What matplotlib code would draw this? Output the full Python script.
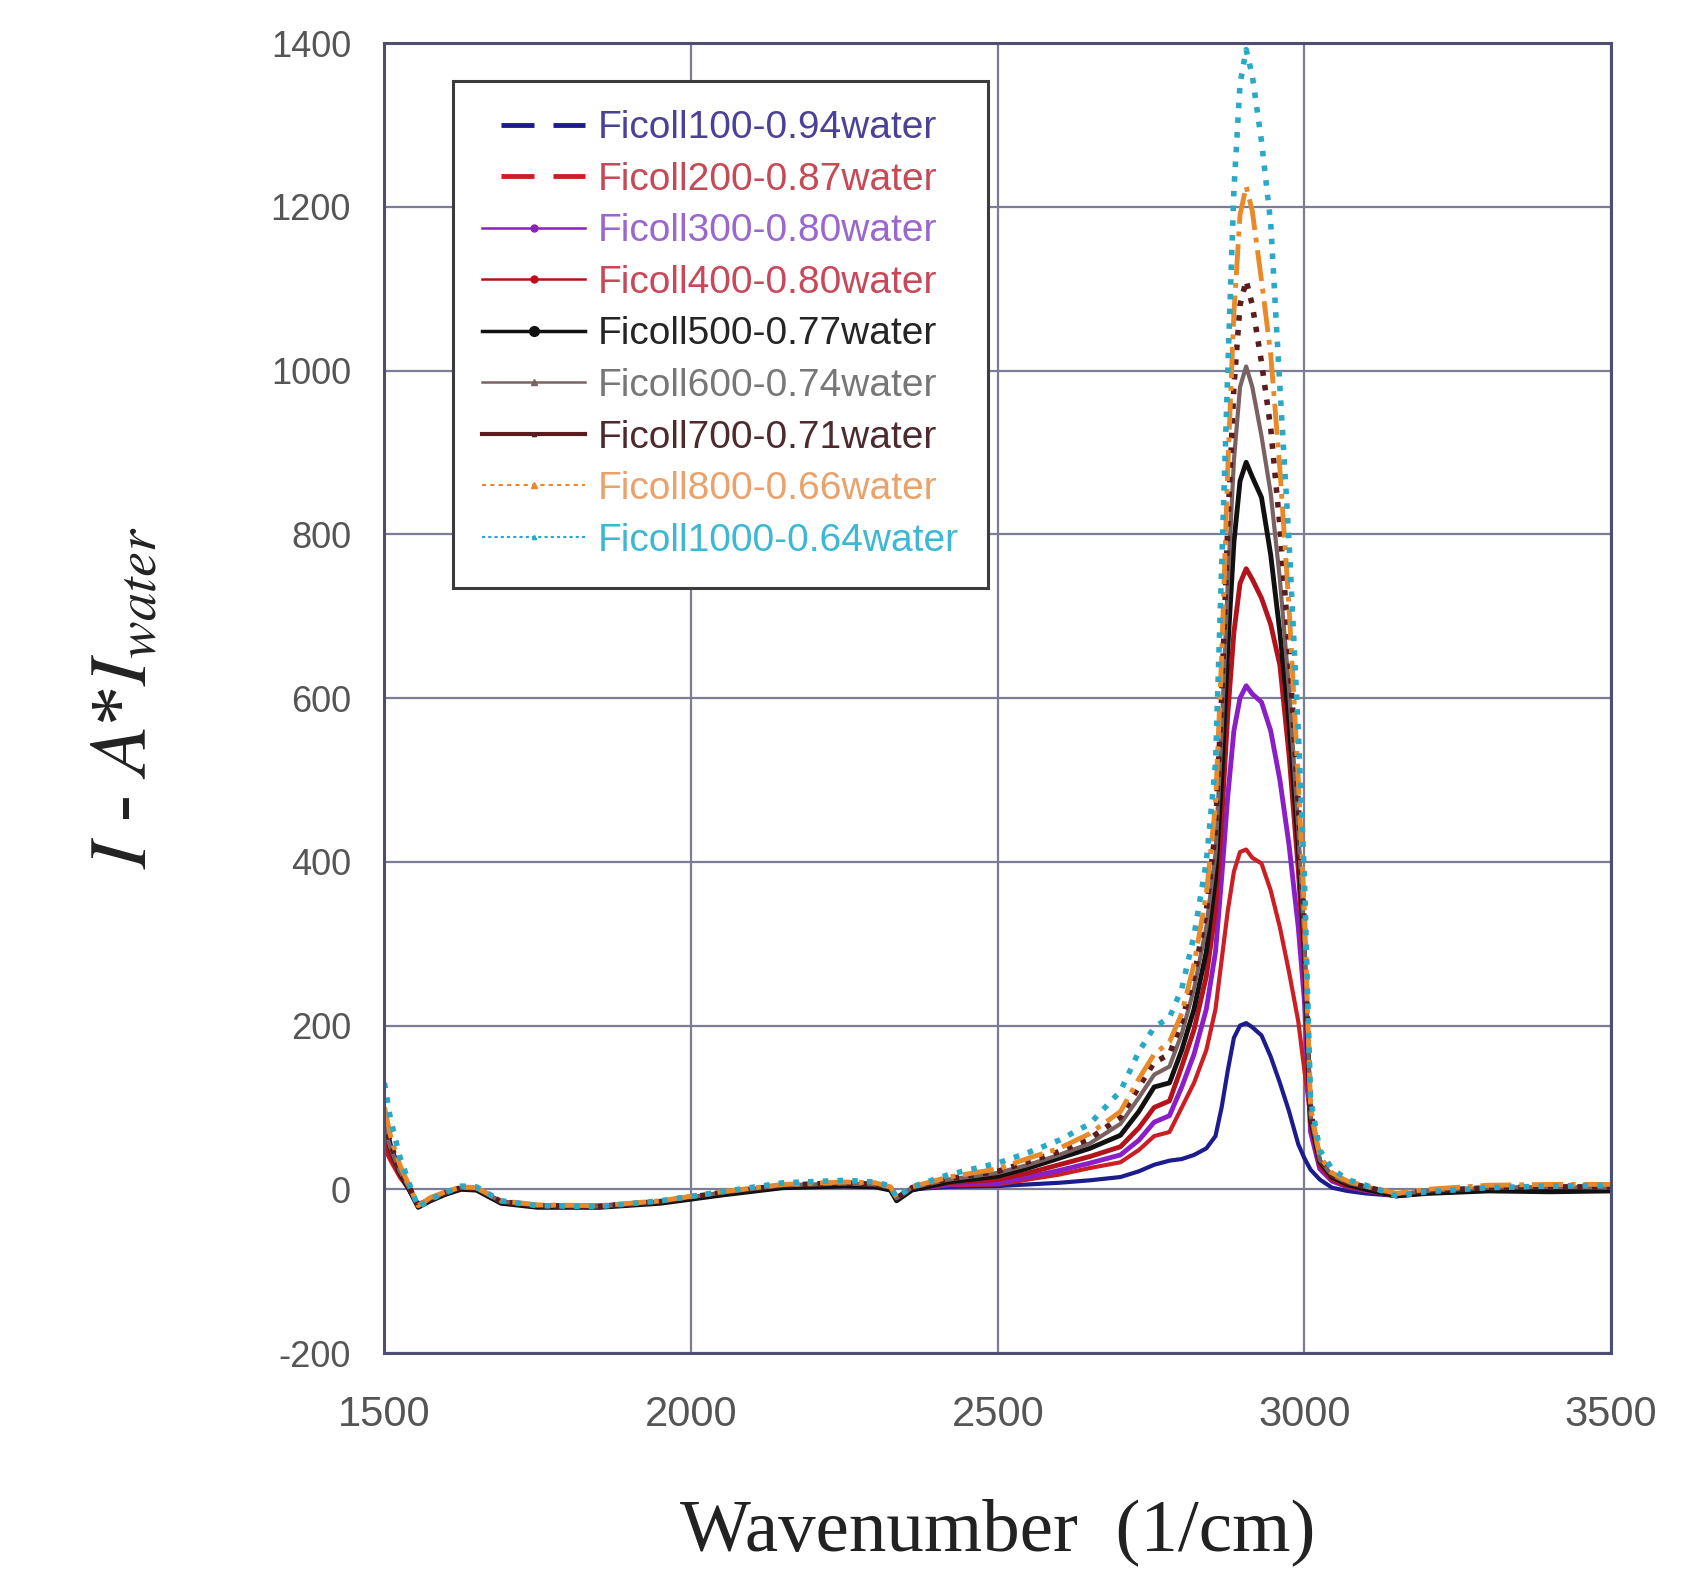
import matplotlib
matplotlib.use('Agg')
import matplotlib.pyplot as plt
from matplotlib.lines import Line2D

plt.rcParams['mathtext.fontset'] = 'stix'
plt.rcParams['axes.unicode_minus'] = False

# Raman difference spectra, Ficoll solutions minus scaled water
wavenumber = [1500, 1510, 1525, 1540, 1555, 1575, 1600, 1625, 1650, 1690,
              1750, 1850, 1950, 2050, 2150, 2250, 2300, 2325, 2335, 2360,
              2420, 2500, 2550, 2600, 2650, 2700, 2730, 2755, 2780, 2800,
              2820, 2840, 2855, 2865, 2875, 2885, 2895, 2905, 2915, 2930,
              2945, 2960, 2975, 2990, 3000, 3010, 3025, 3045, 3070, 3100,
              3150, 3200, 3300, 3400, 3500]

f100 = [90, 55, 22, 1, -18, -12, -4, 2, 1, -15,
        -20, -20, -15, -5, 3, 4, 3, 0, -10, 0,
        3, 4, 6, 8, 11, 15, 22, 30, 35, 37,
        42, 50, 65, 100, 145, 185, 200, 203, 198, 188,
        162, 130, 95, 55, 38, 24, 12, 2, -2, -5,
        -8, -4, 0, 1, 0]
f200 = [50, 35, 15, 0, -18, -12, -5, 1, 0, -15,
        -20, -20, -15, -5, 3, 5, 4, 0, -11, 0,
        5, 6, 12, 18, 26, 33, 48, 65, 70, 100,
        130, 170, 220, 280, 340, 388, 412, 415, 405, 398,
        365, 320, 265, 205, 145, 88, 35, 12, 3, -2,
        -8, -4, 0, 1, 0]
f300 = [70, 45, 20, 1, -20, -13, -5, 1, 0, -16,
        -21, -21, -16, -6, 3, 5, 4, 0, -12, 0,
        6, 8, 15, 23, 32, 42, 60, 82, 90, 125,
        165, 220, 290, 380, 480, 560, 600, 615, 605, 595,
        560, 500, 420, 320, 230, 70, 25, 10, 3, -1,
        -8, -4, 0, 1, 0]
f400 = [60, 40, 18, 0, -20, -13, -5, 1, 0, -16,
        -21, -21, -16, -6, 3, 5, 4, 0, -12, 0,
        8, 12, 20, 30, 40, 52, 75, 100, 108, 150,
        195, 260, 340, 450, 580, 680, 740, 758, 745, 722,
        690, 640, 530, 390, 270, 80, 30, 12, 4, 0,
        -8, -4, 0, 1, 0]
f500 = [80, 50, 20, 0, -22, -14, -6, 0, -1, -17,
        -22, -22, -17, -7, 2, 4, 3, -1, -14, -1,
        9, 16, 26, 38, 50, 66, 95, 125, 130, 170,
        220, 290, 380, 500, 660, 790, 865, 888, 870, 845,
        775, 680, 570, 420, 290, 85, 34, 15, 6, 0,
        -8, -5, -2, -3, -2]
f600 = [75, 50, 22, 2, -20, -12, -4, 2, 1, -15,
        -20, -21, -15, -4, 5, 7, 6, 2, -11, 2,
        12, 20, 30, 42, 56, 80, 112, 140, 150, 190,
        245, 320, 410, 560, 740, 890, 980, 1005, 980, 920,
        850, 745, 610, 440, 300, 90, 36, 17, 8, 3,
        -6, -2, 2, 3, 2]
f700 = [85, 55, 25, 3, -20, -12, -4, 2, 1, -15,
        -20, -21, -15, -4, 5, 8, 6, 2, -11, 2,
        13, 22, 34, 46, 62, 88, 125, 155, 165, 205,
        260, 340, 440, 600, 810, 980, 1080, 1110, 1080, 1010,
        930, 810, 660, 470, 320, 95, 38, 18, 8, 3,
        -6, -2, 2, 3, 3]
f800 = [100, 65, 30, 5, -20, -10, -3, 3, 2, -14,
        -19, -20, -14, -3, 6, 9, 8, 3, -10, 3,
        15, 25, 38, 50, 68, 95, 135, 165, 180, 215,
        275, 360, 470, 650, 880, 1070, 1190, 1225, 1195, 1110,
        1020, 880, 710, 500, 340, 100, 40, 20, 10, 4,
        -5, 0, 5, 6, 6]
f1000 = [130, 85, 40, 8, -22, -12, -4, 4, 3, -14,
         -20, -21, -14, -3, 8, 11, 9, 4, -10, 3,
         18, 32, 45, 60, 80, 120, 168, 198, 210, 245,
         310, 400, 520, 760, 1000, 1220, 1350, 1392, 1360, 1280,
         1180, 980, 790, 560, 380, 110, 48, 25, 12, 5,
         -8, -3, 2, 4, 5]

labels = ['Ficoll100-0.94water', 'Ficoll200-0.87water', 'Ficoll300-0.80water',
          'Ficoll400-0.80water', 'Ficoll500-0.77water', 'Ficoll600-0.74water',
          'Ficoll700-0.71water', 'Ficoll800-0.66water', 'Ficoll1000-0.64water']
series = [f100, f200, f300, f400, f500, f600, f700, f800, f1000]

colors = ['#1c1c8c', '#cc1f24', '#8a1fc8', '#b3141c', '#111111',
          '#7a6262', '#5a1c1c', '#e8892a', '#2aa8c8']
text_colors = ['#4a429a', '#c44a56', '#9a66d0', '#c8485a', '#252525',
               '#777777', '#4e2a2e', '#eaa26a', '#3cb8d4']
plot_ls = ['-', '-', '-', '-', '-', '-', ':', '-.', ':']
plot_lw = [3, 3, 3.5, 3.5, 3.5, 3, 4, 3.5, 4]

# legend symbols
leg_ls = [(6.8, (6.8, 3.9)), (6.8, (6.8, 3.9)), '-', '-', '-', '-', '-',
          (0, (2, 2)), (0, (1.5, 1.5))]
leg_lw = [3.5, 3.5, 1.8, 1.8, 2.5, 1.8, 3, 1.5, 1.5]
leg_mk = ['', '', 'o', 'o', 'o', '^', '^', '^', '^']
leg_ms = [0, 0, 5, 5, 7, 4, 3, 4, 3]

fig = plt.figure(figsize=(16.84, 15.82), dpi=100)
ax = fig.add_axes([0.2283, 0.1447, 0.7284, 0.8281])

for ys, c, ls, lw in zip(series, colors, plot_ls, plot_lw):
    ax.plot(wavenumber, ys, color=c, linestyle=ls, linewidth=lw)

ax.set_xlim(1500, 3500)
ax.set_ylim(-200, 1400)
ax.set_xticks([1500, 2000, 2500, 3000, 3500])
ax.set_yticks(range(-200, 1401, 200))
ax.grid(True, color='#7c7c96', linewidth=1.6)
ax.set_axisbelow(True)
for sp in ax.spines.values():
    sp.set_color('#4e4e72')
    sp.set_linewidth(2.2)

ax.tick_params(axis='both', length=0, colors='#555555')
ax.tick_params(axis='y', pad=24, labelsize=26)
ax.tick_params(axis='x', pad=30, labelsize=30)
for t in ax.get_yticklabels() + ax.get_xticklabels():
    t.set_family(['Liberation Sans', 'DejaVu Sans'])

ax.set_xlabel('Wavenumber  (1/cm)', family=['Liberation Serif'], fontsize=54,
              color='#222222', labelpad=46)
ax.set_ylabel(r'$I$ - $A$*$I_{water}$', family=['Liberation Serif'], fontsize=58,
              color='#222222', labelpad=78)

handles = [Line2D([], [], color=c, linestyle=ls, linewidth=lw, marker=m, markersize=ms)
           for c, ls, lw, m, ms in zip(colors, leg_ls, leg_lw, leg_mk, leg_ms)]
leg = ax.legend(handles, labels, loc='upper left', bbox_to_anchor=(0.0558, 0.971),
                borderaxespad=0, fancybox=False, framealpha=1, edgecolor='#3c3c3c',
                prop={'family': 'Liberation Sans', 'size': 28}, handlelength=2.65,
                handletextpad=0.33, labelspacing=0.40, borderpad=0.75)
leg.get_frame().set_linewidth(2.2)
for txt, tc in zip(leg.get_texts(), text_colors):
    txt.set_color(tc)

fig.savefig('out.png', dpi=100)
